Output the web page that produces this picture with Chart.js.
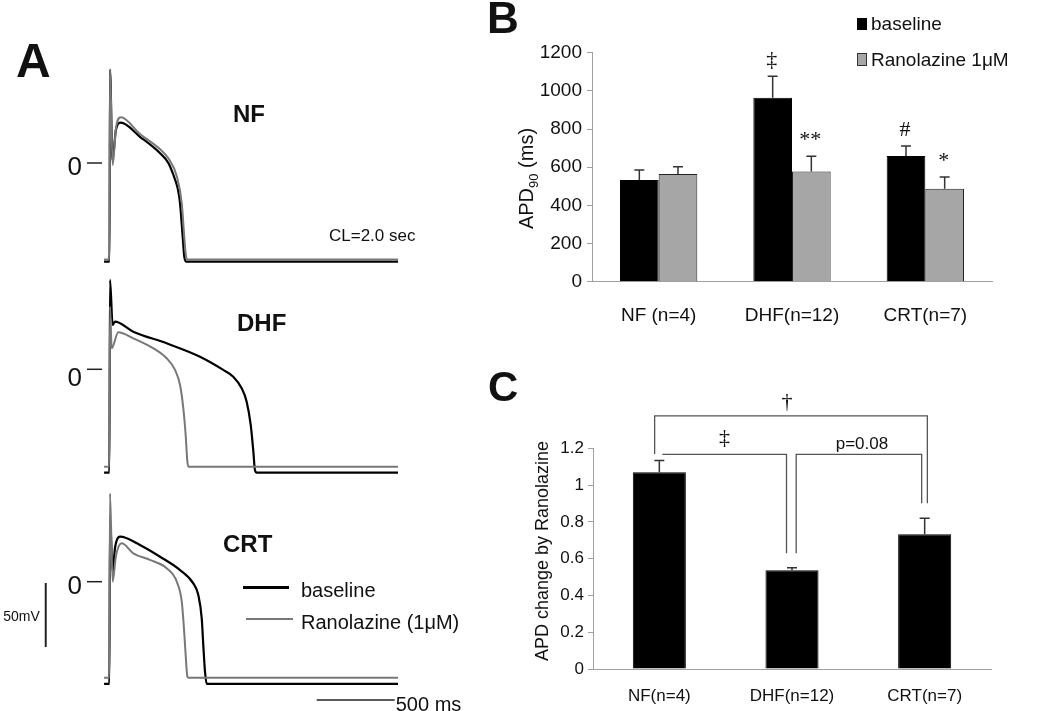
<!DOCTYPE html>
<html>
<head>
<meta charset="utf-8">
<script src="https://cdn.jsdelivr.net/npm/chart.js@4.4.1/dist/chart.umd.min.js"></script>
<style>
  html, body { margin: 0; padding: 0; background: #fff; }
  #fig { position: relative; width: 1050px; height: 711px; overflow: hidden; background: #fff;
         font-family: "Liberation Sans", Arial, sans-serif; color: #111; }
  #fig canvas { position: absolute; }
  .lbl { position: absolute; white-space: nowrap; line-height: 1; }
  .box { position: absolute; }
</style>
</head>
<body>
<div id="fig">
  <canvas id="nfTrace" width="470" height="236" style="left:0"></canvas>
  <canvas id="dhfTrace" width="470" height="210" style="left:0"></canvas>
  <canvas id="crtTrace" width="470" height="225" style="left:0"></canvas>
  <canvas id="apdChart" width="560" height="340" style="left:490px;top:0"></canvas>
  <canvas id="changeChart" width="560" height="371" style="left:490px;top:340px"></canvas>
</div>
<script>
/* ===== DATA ===== */
// panel A: action potentials, [time ms, voltage mV]
const nfBaseline = [[-38,-77],[-3,-77],[0,73],[16,2],[38,26],[69,31.5],[192,20.5],[321,7.6],[374,0],[417,-13],[436,-21],[449,-31.5],[466,-57.6],[476,-73],[487,-77],[1846,-77]];
const nfRanolazine = [[-38,-75.4],[-3,-75.4],[0,73],[17,-1.6],[38,27],[69,35.7],[192,22.7],[321,10.7],[374,3.7],[429,-10.7],[460,-31.5],[476,-57.6],[487,-72.7],[497,-75.4],[1846,-75.4]];
const dhfBaseline = [[-38,-80.8],[-4,-80.8],[0,69.8],[17,34.6],[32,37.2],[149,29.4],[363,20.3],[577,9.8],[726,-0.5],[790,-5.8],[844,-14.8],[876,-25.3],[902,-43.5],[919,-64.4],[929,-78.7],[942,-80.8],[1846,-80.8]];
const dhfRanolazine = [[-38,-76.1],[-4,-76.1],[0,48.9],[11,16.4],[53,28.9],[149,24.2],[278,16.4],[363,8.6],[417,-0.5],[449,-12.3],[470,-30.5],[485,-51.3],[496,-72.2],[503,-76.1],[1846,-76.1]];
const crtBaseline = [[-38,-79.9],[-4,-79.9],[0,49.5],[17,7.6],[32,26.3],[64,35.2],[192,28.7],[321,19.5],[449,9.1],[534,-1.3],[566,-10.4],[588,-28.6],[598,-49.5],[609,-70.3],[620,-79.9],[1846,-79.9]];
const crtRanolazine = [[-38,-75],[-4,-75],[0,69],[17,0],[38,20],[75,30],[149,22.2],[256,17],[363,10.5],[428,0],[460,-15.6],[474,-36.4],[485,-57.3],[496,-74.2],[503,-75],[1846,-75]];

// panel B: APD90 (ms)
const groupsB = ["NF (n=4)", "DHF(n=12)", "CRT(n=7)"];
const apdBaseline = [533, 964, 659];
const apdBaselineSE = [52, 112, 52];
const apdBaselineSig = ["", "‡", "#"];
const apdRanolazine = [564, 578, 487];
const apdRanolazineSE = [39, 79, 62];
const apdRanolazineSig = ["", "**", "*"];
const apdTicks = { min: 0, max: 1200, step: 200 };

// panel C: APD change by ranolazine
const groupsC = ["NF(n=4)", "DHF(n=12)", "CRT(n=7)"];
const apdChange = [1.07, 0.537, 0.732];
const apdChangeSE = [0.063, 0.014, 0.087];
const changeTicks = { min: 0, max: 1.2, step: 0.2 };

/* ===== SETUP ===== */
const FONT = '"Liberation Sans", Arial, sans-serif';
const SERIF = '"Liberation Serif", "Times New Roman", serif';
Chart.defaults.font.family = FONT;
Chart.defaults.color = "#111";

const fig = document.getElementById("fig");
function label(text, x, baseline, size, bold) {
  const d = document.createElement("div");
  d.className = "lbl";
  d.textContent = text;
  d.style.left = x + "px";
  d.style.top = (baseline - 0.8465 * size) + "px";
  d.style.fontSize = size + "px";
  if (bold) d.style.fontWeight = "bold";
  fig.appendChild(d);
}
function box(x, y, w, h, css) {
  const d = document.createElement("div");
  d.className = "box";
  Object.assign(d.style, { left: x + "px", top: y + "px", width: w + "px", height: h + "px" }, css);
  fig.appendChild(d);
}
// plain tick text: 1200 not 1,200 and 1 not 1.0
const plainTick = v => String(Number(v.toFixed(2)));

/* ===== PLUGINS ===== */
const traceMarks = {
  id: "traceMarks",
  afterDatasetsDraw(chart, args, opts) {
    const { ctx, scales: { x, y } } = chart;
    const x0 = x.getPixelForValue(0);
    const y0 = y.getPixelForValue(0);
    ctx.save();
    ctx.strokeStyle = "#222";
    ctx.fillStyle = "#111";
    ctx.lineWidth = 1.5;
    ctx.beginPath();
    ctx.moveTo(x0 - 23, y0);
    ctx.lineTo(x0 - 8, y0);
    ctx.stroke();
    ctx.font = "26px " + FONT;
    ctx.textAlign = "right";
    ctx.textBaseline = "alphabetic";
    ctx.fillText("0", x0 - 28, y0 + 12.3 + (opts.zeroDy || 0));

    const sb = opts.scaleBar;
    if (sb) {
      const bx = x.getPixelForValue(sb.t);
      const by1 = y.getPixelForValue(sb.v);
      const by2 = y.getPixelForValue(sb.v - sb.mv);
      ctx.lineWidth = 2;
      ctx.beginPath();
      ctx.moveTo(bx, by1);
      ctx.lineTo(bx, by2);
      ctx.stroke();
      ctx.font = "14px " + FONT;
      ctx.fillText(sb.mv + "mV", bx - 6, (by1 + by2) / 2 + 6);

      const hx1 = x.getPixelForValue(sb.t2);
      const hx2 = x.getPixelForValue(sb.t2 + sb.ms);
      const hy = y.getPixelForValue(sb.v2);
      ctx.lineWidth = 1.5;
      ctx.beginPath();
      ctx.moveTo(hx1, hy);
      ctx.lineTo(hx2, hy);
      ctx.stroke();
      ctx.font = "20px " + FONT;
      ctx.textAlign = "left";
      ctx.fillText(sb.ms + " ms", hx2 + 1, hy + 10.7);
    }
    ctx.restore();
  }
};

const errorBars = {
  id: "errorBars",
  afterDatasetsDraw(chart, args, opts) {
    const { ctx } = chart;
    const yS = chart.scales.y;
    ctx.save();
    ctx.strokeStyle = opts.color;
    ctx.lineWidth = opts.width;
    ctx.fillStyle = "#111";
    ctx.textAlign = "center";
    ctx.textBaseline = "alphabetic";
    chart.data.datasets.forEach((ds, di) => {
      chart.getDatasetMeta(di).data.forEach((bar, i) => {
        const top = yS.getPixelForValue(ds.data[i] + ds.errors[i]);
        ctx.beginPath();
        ctx.moveTo(bar.x, bar.y);
        ctx.lineTo(bar.x, top);
        ctx.moveTo(bar.x - opts.cap, top);
        ctx.lineTo(bar.x + opts.cap, top);
        ctx.stroke();
        if (ds.marks && ds.marks[i]) {
          ctx.font = opts.markFont;
          ctx.fillText(ds.marks[i], bar.x - 1, top - 10);
        }
      });
    });
    ctx.restore();
  }
};

const yTitle = {
  id: "yTitle",
  afterDraw(chart, args, opts) {
    const { ctx, chartArea } = chart;
    ctx.save();
    ctx.translate(chartArea.left - opts.dx, (chartArea.top + chartArea.bottom) / 2 + opts.dy);
    ctx.rotate(-Math.PI / 2);
    ctx.fillStyle = "#111";
    ctx.textBaseline = "alphabetic";
    ctx.textAlign = "left";
    let total = 0;
    opts.parts.forEach(p => { ctx.font = p.size + "px " + FONT; total += ctx.measureText(p.text).width; });
    let cx = -total / 2;
    opts.parts.forEach(p => {
      ctx.font = p.size + "px " + FONT;
      ctx.fillText(p.text, cx, p.dy || 0);
      cx += ctx.measureText(p.text).width;
    });
    ctx.restore();
  }
};

const brackets = {
  id: "brackets",
  afterDatasetsDraw(chart, args, opts) {
    const { ctx } = chart;
    const y = chart.scales.y;
    const bars = chart.getDatasetMeta(0).data;
    ctx.save();
    ctx.strokeStyle = "#555";
    ctx.lineWidth = 1.3;
    ctx.fillStyle = "#111";
    ctx.textAlign = "center";
    opts.items.forEach(b => {
      const x1 = bars[b.from].x + b.dx1;
      const x2 = bars[b.to].x + b.dx2;
      const yl = y.getPixelForValue(b.level);
      ctx.beginPath();
      ctx.moveTo(x1, b.drop1 != null ? y.getPixelForValue(b.drop1) : yl);
      ctx.lineTo(x1, yl);
      ctx.lineTo(x2, yl);
      ctx.lineTo(x2, y.getPixelForValue(b.drop2));
      ctx.stroke();
      ctx.font = b.font;
      ctx.fillText(b.text, (x1 + x2) / 2 + (b.tx || 0), yl - b.gap);
    });
    ctx.restore();
  }
};

/* ===== PANEL A ===== */
const PX_PER_MS = 0.156, PX_PER_MV = 1.28, UPSTROKE_X = 110, TRACE_W = 470;
const toXY = arr => arr.map(([x, y]) => ({ x, y }));

function traceChart(id, top, zeroY, base, ran, marks) {
  const el = document.getElementById(id);
  el.style.top = top + "px";
  const height = el.height;
  return new Chart(el, {
    type: "line",
    data: {
      datasets: [
        { label: "Ranolazine (1μM)", data: toXY(ran), borderColor: "#787878", borderWidth: 2 },
        { label: "baseline", data: toXY(base), borderColor: "#000", borderWidth: 2.2 }
      ]
    },
    options: {
      responsive: false,
      animation: false,
      layout: { padding: 0 },
      elements: { point: { radius: 0 }, line: { cubicInterpolationMode: "monotone" } },
      scales: {
        x: { type: "linear", display: false, min: -UPSTROKE_X / PX_PER_MS, max: (TRACE_W - UPSTROKE_X) / PX_PER_MS },
        y: { display: false, min: (zeroY - top - height) / PX_PER_MV, max: (zeroY - top) / PX_PER_MV }
      },
      plugins: { legend: { display: false }, tooltip: { enabled: false }, traceMarks: marks }
    },
    plugins: [traceMarks]
  });
}

traceChart("nfTrace", 40, 163, nfBaseline, nfRanolazine, { zeroDy: 0 });
traceChart("dhfTrace", 276, 369.3, dhfBaseline, dhfRanolazine, { zeroDy: 4 });
traceChart("crtTrace", 486, 581.7, crtBaseline, crtRanolazine, {
  zeroDy: 0,
  scaleBar: { t: -412, v: -1, mv: 50, t2: 1325, v2: -92.4, ms: 500 }
});

label("A", 16, 78, 48, true);
label("NF", 233, 122.7, 24, true);
label("DHF", 237, 331.7, 24, true);
label("CRT", 223, 552.3, 24, true);
label("CL=2.0 sec", 329, 241.7, 17);
box(242.7, 586, 46.6, 2.5, { background: "#000" });
box(246, 617.8, 47.3, 2.5, { background: "#787878" });
label("baseline", 301, 596.7, 20);
label("Ranolazine (1μM)", 301, 628.5, 20);

/* ===== PANEL B ===== */
new Chart(document.getElementById("apdChart"), {
  type: "bar",
  data: {
    labels: groupsB,
    datasets: [
      { label: "baseline", data: apdBaseline, errors: apdBaselineSE, marks: apdBaselineSig,
        backgroundColor: "#000", borderColor: "#000", borderWidth: 1 },
      { label: "Ranolazine 1μM", data: apdRanolazine, errors: apdRanolazineSE, marks: apdRanolazineSig,
        backgroundColor: "#a6a6a6", borderColor: "#222", borderWidth: 1 }
    ]
  },
  options: {
    responsive: false,
    animation: false,
    layout: { padding: { left: 0, right: 58, top: 52.7, bottom: 0 } },
    datasets: { bar: { categoryPercentage: 0.58, barPercentage: 1 } },
    scales: {
      x: {
        grid: { display: false, drawTicks: false },
        border: { color: "#a0a0a0" },
        ticks: { padding: 23, font: { size: 19 }, color: "#111" },
        afterFit: s => { s.height = 58.3; }
      },
      y: {
        min: apdTicks.min, max: apdTicks.max,
        ticks: { stepSize: apdTicks.step, padding: 5, font: { size: 19 }, color: "#111", callback: plainTick },
        grid: { drawOnChartArea: false, tickLength: 5, color: "#a0a0a0" },
        border: { color: "#a0a0a0" },
        afterFit: s => { s.width = 102; }
      }
    },
    plugins: {
      legend: { display: false },
      tooltip: { enabled: false },
      errorBars: { cap: 5, color: "#333", width: 1.5, markFont: "22px " + SERIF },
      yTitle: { dx: 59.5, dy: 11.3, parts: [
        { text: "APD", size: 20 }, { text: "90", size: 13, dy: 5 }, { text: " (ms)", size: 20 }
      ] }
    }
  },
  plugins: [errorBars, yTitle]
});

label("B", 487, 33, 44, true);
box(857, 18, 10, 12, { background: "#000" });
box(857, 53, 8, 11, { background: "#a6a6a6", border: "1px solid #333" });
label("baseline", 871, 30, 19);
label("Ranolazine 1μM", 871, 66, 19);

/* ===== PANEL C ===== */
new Chart(document.getElementById("changeChart"), {
  type: "bar",
  data: {
    labels: groupsC,
    datasets: [
      { label: "APD change", data: apdChange, errors: apdChangeSE,
        backgroundColor: "#000", borderColor: "#000", borderWidth: 1 }
    ]
  },
  options: {
    responsive: false,
    animation: false,
    layout: { padding: { left: 0, right: 59, top: 108.3, bottom: 0 } },
    datasets: { bar: { categoryPercentage: 0.4, barPercentage: 1 } },
    scales: {
      x: {
        grid: { display: false, drawTicks: false },
        border: { color: "#a0a0a0" },
        ticks: { padding: 17, font: { size: 17 }, color: "#111" },
        afterFit: s => { s.height = 42; }
      },
      y: {
        min: changeTicks.min, max: changeTicks.max,
        ticks: { stepSize: changeTicks.step, padding: 4, font: { size: 17 }, color: "#111", callback: plainTick },
        grid: { drawOnChartArea: false, tickLength: 5, color: "#a0a0a0" },
        border: { color: "#a0a0a0" },
        afterFit: s => { s.width = 103; }
      }
    },
    plugins: {
      legend: { display: false },
      tooltip: { enabled: false },
      errorBars: { cap: 5, color: "#333", width: 1.5, markFont: "22px " + SERIF },
      yTitle: { dx: 45, dy: -7.7, parts: [{ text: "APD change by Ranolazine", size: 18 }] },
      brackets: { items: [
        { from: 0, to: 2, dx1: -4.7, dx2: 2.7, level: 1.376, drop1: 1.169, drop2: 0.901,
          text: "†", font: "22px " + SERIF, gap: 8, tx: -4 },
        { from: 0, to: 1, dx1: 3, dx2: -5.5, level: 1.167, drop1: null, drop2: 0.629,
          text: "‡", font: "22px " + SERIF, gap: 10 },
        { from: 1, to: 2, dx1: 4.2, dx2: -3, level: 1.167, drop1: 0.629, drop2: 0.901,
          text: "p=0.08", font: "17px " + FONT, gap: 5, tx: 3 }
      ] }
    }
  },
  plugins: [errorBars, yTitle, brackets]
});

label("C", 488, 401.7, 42, true);
</script>
</body>
</html>
